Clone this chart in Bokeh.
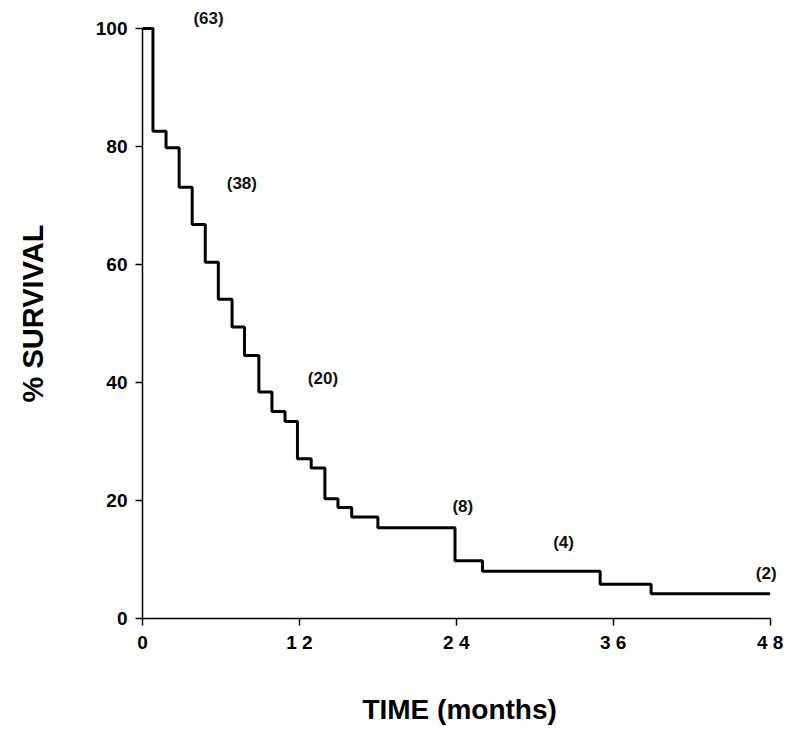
from bokeh.plotting import figure
from bokeh.models import Label, Range1d, FixedTicker
from bokeh.embed import file_html
from bokeh.resources import INLINE

# Kaplan-Meier step data (months, % survival)
times = [0, 0.8, 1.8, 2.8, 3.8, 4.8, 5.8, 6.85, 7.8, 8.9, 9.9, 10.9, 11.85,
         12.9, 13.95, 14.95, 16.0, 18.0, 23.9, 26.0, 35.0, 38.9, 48.0]
survival = [100, 82.6, 79.8, 73.1, 66.8, 60.4, 54.1, 49.4, 44.6, 38.4, 35.1,
            33.4, 27.1, 25.5, 20.3, 18.8, 17.2, 15.4, 9.8, 8.0, 5.8, 4.2, 4.2]

# Numbers at risk annotations
risk_x = [5.05, 7.6, 13.8, 24.5, 32.2, 47.7]
risk_y = [101.7, 73.7, 40.7, 19.0, 12.9, 7.6]
risk_text = ["(63)", "(38)", "(20)", "(8)", "(4)", "(2)"]

x_ticks = [0, 12, 24, 36, 48]
x_tick_labels = ["0", "1 2", "2 4", "3 6", "4 8"]
y_ticks = [0, 20, 40, 60, 80, 100]

FONT = "Liberation Sans"

p = figure(width=792, height=730, output_backend="svg", toolbar_location=None,
           x_range=Range1d(0, 49.1), y_range=Range1d(0, 103.4),
           min_border_left=142, min_border_right=8, min_border_top=8,
           min_border_bottom=112)
p.outline_line_color = None
p.xgrid.grid_line_color = None
p.ygrid.grid_line_color = None
p.background_fill_color = "white"
p.border_fill_color = "white"

p.step(times, survival, mode="after", line_color="black", line_width=3)

for rx, ry, rt in zip(risk_x, risk_y, risk_text):
    p.add_layout(Label(x=rx, y=ry, text=rt, text_align="center",
                       text_baseline="middle", text_font=FONT,
                       text_font_style="bold", text_font_size="17px",
                       text_color="#111111"))

for ax in (p.xaxis[0], p.yaxis[0]):
    ax.axis_line_color = "black"
    ax.axis_line_width = 1.5
    ax.major_tick_line_color = "black"
    ax.major_tick_line_width = 1.5
    ax.major_tick_in = 0
    ax.major_tick_out = 7
    ax.minor_tick_line_color = None
    ax.major_label_text_font = FONT
    ax.major_label_text_font_style = "bold"
    ax.major_label_text_color = "black"
    ax.axis_label_text_font = FONT
    ax.axis_label_text_font_style = "bold"
    ax.axis_label_text_color = "black"

p.xaxis.bounds = (0, 48)
p.yaxis.bounds = (0, 100)

p.xaxis.ticker = FixedTicker(ticks=x_ticks)
p.xaxis.major_label_overrides = {t: l for t, l in zip(x_ticks, x_tick_labels)}
p.xaxis.major_label_text_font_size = "19px"
p.xaxis.major_label_standoff = 6
p.xaxis.axis_label = "TIME  (months)"
p.xaxis.axis_label_text_font_size = "28px"
p.xaxis.axis_label_standoff = 38

p.yaxis.ticker = FixedTicker(ticks=y_ticks)
p.yaxis.major_label_text_font_size = "19px"
p.yaxis.major_label_standoff = 8
p.yaxis.axis_label = "% SURVIVAL"
p.yaxis.axis_label_text_font_size = "29px"
p.yaxis.axis_label_standoff = 44

open("out.html", "w").write(file_html(p, INLINE))
